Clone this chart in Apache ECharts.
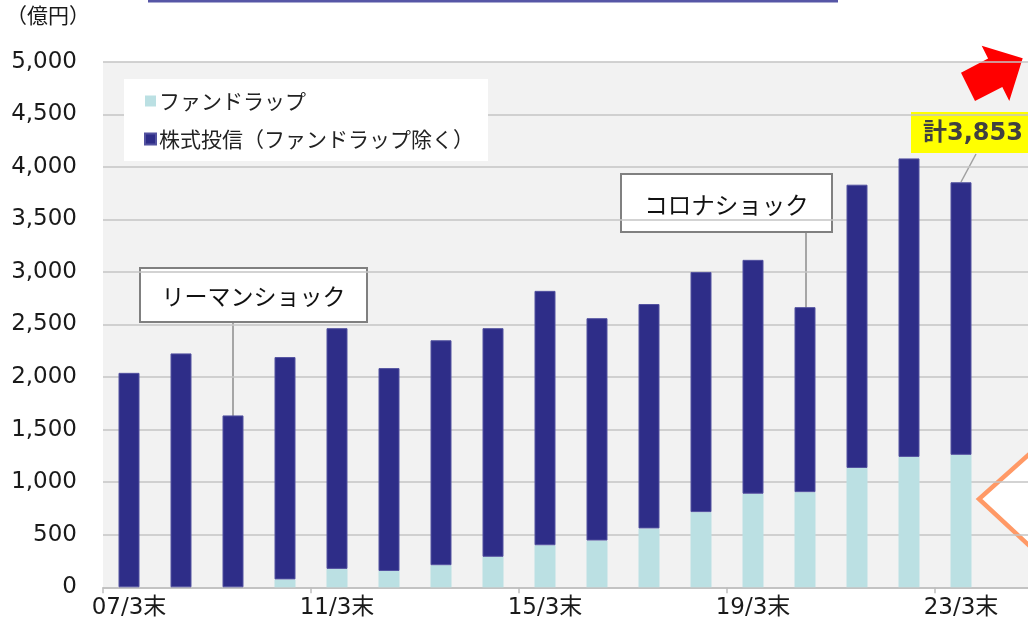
<!DOCTYPE html>
<html>
<head>
<meta charset="utf-8">
<script src="https://cdn.jsdelivr.net/npm/echarts@6/dist/echarts.min.js"></script>
<style>
  html, body { margin: 0; padding: 0; background: #fff; }
  #chart { width: 1028px; height: 626px; }
</style>
</head>
<body>
<div id="chart"></div>
<script>
  // 年度末 (最後のカテゴリは画面外)
  var categories = ['07/3末', '08/3末', '09/3末', '10/3末', '11/3末', '12/3末', '13/3末', '14/3末', '15/3末',
    '16/3末', '17/3末', '18/3末', '19/3末', '20/3末', '21/3末', '22/3末', '23/3末', ''];
  // ファンドラップ（億円）
  var fundWrap = [0, 0, 0, 75, 175, 155, 210, 290, 400, 445, 560, 715, 890, 905, 1135, 1240, 1260, null];
  // 株式投信（ファンドラップ除く）
  var stockFunds = [2040, 2225, 1635, 2115, 2290, 1930, 2140, 2175, 2420, 2115, 2135, 2285, 2225, 1760, 2695, 2840, 2593, null];
  var yTicks = [0, 5000, 500];

  var FONT = '"Noto Sans CJK JP", "Noto Sans", sans-serif';
  var NUM_FONT = '"DejaVu Sans", "Noto Sans CJK JP", sans-serif';
  var chart = echarts.init(document.getElementById('chart'));

  var option = {
    animation: false,
    textStyle: { fontFamily: FONT },
    grid: {
      left: 103, width: 936, top: 61.7, bottom: 38.7,
      outerBoundsMode: 'none',
      containLabel: false,
      show: true, backgroundColor: '#F2F2F2', borderWidth: 0
    },
    legend: {
      left: 124, top: 79,
      orient: 'vertical',
      backgroundColor: '#fff',
      padding: [8, 14, 8, 20],
      itemGap: 10,
      itemWidth: 11, itemHeight: 11,
      icon: 'rect',
      textStyle: { fontSize: 21, color: '#222', fontFamily: FONT, lineHeight: 28, padding: [0, 0, 0, -2] },
      data: ['ファンドラップ', '株式投信（ファンドラップ除く）']
    },
    xAxis: {
      type: 'category',
      data: categories,
      axisLine: { lineStyle: { color: '#BFBFBF', width: 1.5 } },
      axisTick: { show: true, length: 6, lineStyle: { color: '#BFBFBF', width: 1.5 } },
      axisLabel: {
        interval: 3,
        color: '#1a1a1a', fontSize: 23, margin: 9, fontFamily: NUM_FONT
      }
    },
    yAxis: {
      type: 'value',
      min: yTicks[0], max: yTicks[1], interval: yTicks[2],
      axisLine: { show: false },
      axisTick: { show: false },
      splitLine: { lineStyle: { color: '#C4C4C4', width: 1.5 } },
      axisLabel: {
        color: '#1a1a1a', fontSize: 23, margin: 26, fontFamily: NUM_FONT,
        formatter: function (v) { return v.toLocaleString('en-US'); }
      }
    },
    series: [
      {
        name: 'ファンドラップ',
        type: 'bar',
        stack: 'total',
        barWidth: 21,
        itemStyle: { color: '#BBE0E3' },
        data: fundWrap
      },
      {
        name: '株式投信（ファンドラップ除く）',
        type: 'bar',
        stack: 'total',
        barWidth: 21,
        itemStyle: { color: '#2E2D88', borderColor: '#5352A0', borderWidth: 1 },
        data: stockFunds
      }
    ],
    graphic: [
      // 上部の青線
      { type: 'rect', shape: { x: 148, y: 0, width: 690, height: 2.5 }, style: { fill: '#5656A6' } },
      // 単位
      { type: 'text', left: 6, top: 5, style: { text: '（億円）', fontSize: 21, fill: '#1a1a1a', fontFamily: FONT } },
      // リーマンショック
      { type: 'line', shape: { x1: 233, y1: 322, x2: 233, y2: 427 }, style: { stroke: '#8C8C8C', lineWidth: 1.5 } },
      { type: 'rect', shape: { x: 140, y: 268, width: 227, height: 54 }, style: { fill: '#fff', stroke: '#808080', lineWidth: 2 } },
      { type: 'text', x: 253.5, y: 296, style: { text: 'リーマンショック', fontSize: 23, fill: '#111', fontFamily: FONT, align: 'center', verticalAlign: 'middle' } },
      // コロナショック
      { type: 'line', shape: { x1: 806, y1: 232, x2: 806, y2: 313 }, style: { stroke: '#8C8C8C', lineWidth: 1.5 } },
      { type: 'rect', shape: { x: 621, y: 174, width: 211, height: 58 }, style: { fill: '#fff', stroke: '#808080', lineWidth: 2 } },
      { type: 'text', x: 726.5, y: 205, style: { text: 'コロナショック', fontSize: 23.5, fill: '#111', fontFamily: FONT, align: 'center', verticalAlign: 'middle' } },
      // 計3,853
      { type: 'line', shape: { x1: 961, y1: 182, x2: 976, y2: 154 }, style: { stroke: '#A0A0A0', lineWidth: 1.5 } },
      { type: 'rect', shape: { x: 911, y: 112, width: 120, height: 41 }, style: { fill: '#FFFF00' } },
      { type: 'text', x: 923, y: 134, style: { text: '計3,853', fontSize: 24, fontWeight: 'bold', fill: '#404040', fontFamily: NUM_FONT, verticalAlign: 'middle' } },
      // 赤い矢印
      { type: 'polygon', shape: { points: [[961, 72.7], [988.1, 58.6], [981.7, 45.7], [1022.7, 58.3], [1009.3, 101], [1002.3, 86.9], [975, 101]] }, style: { fill: '#FF0000' } },
      // オレンジの枠
      { type: 'polyline', shape: { points: [[1035, 449], [979, 499], [1035, 551]] }, style: { stroke: '#FF9966', lineWidth: 4.5, fill: '#fff' } }
    ]
  };

  chart.setOption(option);
</script>
</body>
</html>
